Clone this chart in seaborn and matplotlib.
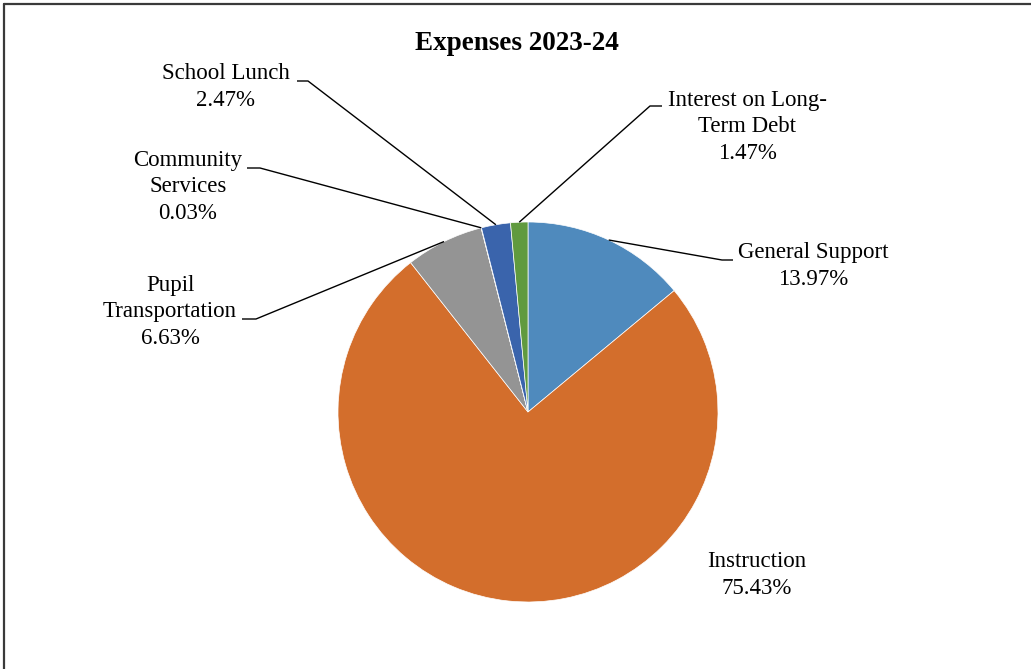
import numpy as np
import matplotlib
matplotlib.use("Agg")
import matplotlib.pyplot as plt
from matplotlib.lines import Line2D
import seaborn as sns

# data
categories = ["General Support", "Instruction", "Pupil\nTransportation",
              "Community\nServices", "School Lunch", "Interest on Long-\nTerm Debt"]
shares = [13.97, 75.43, 6.63, 0.03, 2.47, 1.47]
colors = ["#4F8ABD", "#D36E2C", "#949494", "#DDA617", "#3A64AC", "#609A3E"]
title = "Expenses 2023-24"

sns.set_style("white")
plt.rcParams["font.family"] = ["Liberation Serif", "DejaVu Serif"]
plt.rcParams["text.color"] = "black"

W, H = 1031, 669
fig = plt.figure(figsize=(W / 100, H / 100), dpi=100)

# pie centre (528, 412) px, radius 190 px
cx, cy, R = 528, 412, 190
ax = fig.add_axes([(cx - R) / W, (H - cy - R) / H, 2 * R / W, 2 * R / H])
wedges, _ = ax.pie(shares, colors=colors, startangle=90, counterclock=False,
                   wedgeprops=dict(edgecolor="white", linewidth=0.5))
ax.set_xlim(-1, 1)
ax.set_ylim(-1, 1)
ax.set_aspect("equal")
ax.axis("off")


def px(x, y):
    return (x - cx) / R, (cy - y) / R


# label centre (px) and elbow of leader (px, None = no leader)
label_pos = [(813, 266), (757, 575), (170, 312), (188, 187), (226, 87), (747, 127)]
elbows = [((733, 260), (722, 260)), None, ((242, 319), (256, 319)),
          ((247, 168), (260, 168)), ((297, 81), (308, 81)), ((662, 106), (650, 106))]

for w, name, val, pos, el in zip(wedges, categories, shares, label_pos, elbows):
    lx, ly = px(*pos)
    ax.text(lx, ly, f"{name}\n{val:.2f}%", ha="center", va="center",
            fontsize=16.5, linespacing=1.36, clip_on=False, color="black")
    if el is not None:
        mid = np.deg2rad((w.theta1 + w.theta2) / 2)
        ex, ey = np.cos(mid), np.sin(mid)
        p0 = px(*el[0])
        p1 = px(*el[1])
        ax.plot([p0[0], p1[0], ex], [p0[1], p1[1], ey], color="black",
                lw=1.0, clip_on=False, solid_capstyle="butt")

fig.text(517 / W, 1 - 43 / H, title, ha="center", va="center",
         fontsize=19.5, fontweight="bold", color="black")

# chart frame (top and left edges visible)
fig.add_artist(Line2D([4 / W, 1], [1 - 3.5 / H, 1 - 3.5 / H], color="#3a3a3a", lw=1.6,
                      transform=fig.transFigure))
fig.add_artist(Line2D([4 / W, 4 / W], [0, 1 - 3.5 / H], color="#3a3a3a", lw=1.6,
                      transform=fig.transFigure))

fig.savefig("out.png", dpi=100, facecolor="white")
